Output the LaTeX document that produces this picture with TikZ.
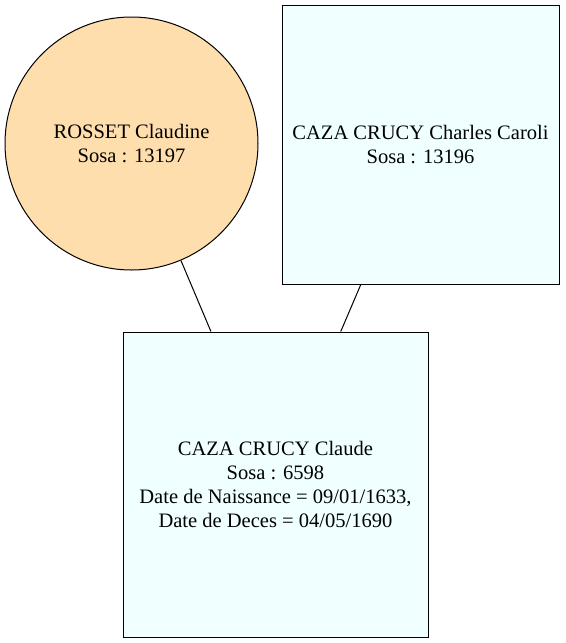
\documentclass[tikz,border=0pt]{standalone}
\usepackage{fontspec}
\setmainfont{Liberation Serif}
\definecolor{femfill}{HTML}{FFDEAD}
\definecolor{malefill}{HTML}{F0FFFF}
\begin{document}
\begin{tikzpicture}[x=0.75pt,y=-0.75pt,
  person/.style={draw=black, line width=0.75pt, align=center, font=\rmfamily\fontsize{15.4}{18}\selectfont, inner sep=0pt},
  female/.style={person, circle, fill=femfill, minimum size=189.75pt},
  male/.style={person, rectangle, fill=malefill},
  link/.style={line width=0.75pt}]
\useasboundingbox (0,0) rectangle (566,643);
\node[female] (rosset) at (131.5,143.5) {ROSSET Claudine\\Sosa : 13197};
\node[male, minimum width=207.75pt, minimum height=209.25pt] (charles) at (420.5,144.5) {CAZA CRUCY Charles Caroli\\Sosa : 13196};
\node[male, minimum width=228.75pt, minimum height=228.75pt] (claude) at (275.5,484.5) {CAZA CRUCY Claude\\Sosa : 6598\\Date de Naissance = 09/01/1633,\\Date de Deces = 04/05/1690};
\draw[link] (rosset) -- (claude);
\draw[link] (charles) -- (claude);
\end{tikzpicture}
\end{document}
